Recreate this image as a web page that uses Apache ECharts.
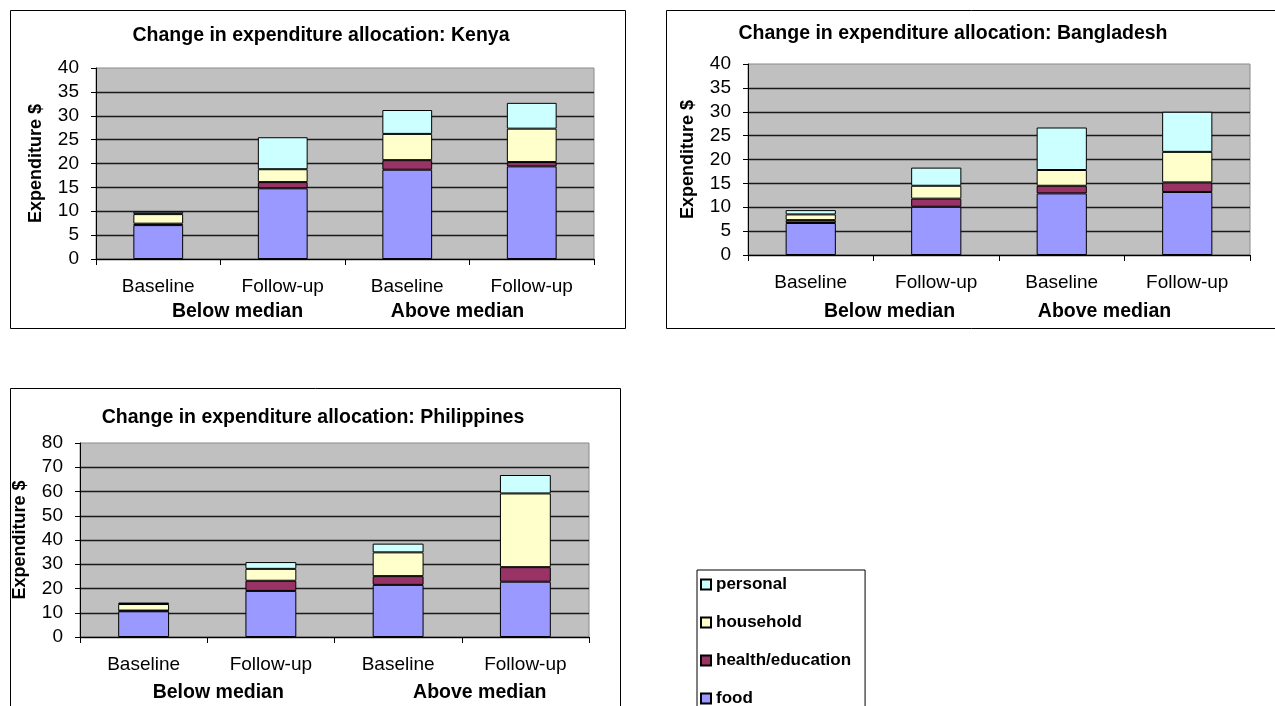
<!DOCTYPE html>
<html>
<head>
<meta charset="utf-8">
<script src="https://cdn.jsdelivr.net/npm/echarts@6.0.0/dist/echarts.min.js"></script>
<style>
    html, body { margin: 0; padding: 0; background: #fff; }
    #main { width: 1275px; height: 706px; }
</style>
</head>
<body>
<div id="main"></div>
<script>
// 数据
var categories = ["Baseline", "Follow-up", "Baseline", "Follow-up"];
var groups = ["Below median", "Above median"];
var seriesNames = ["food", "health/education", "household", "personal"];
var legendOrder = ["personal", "household", "health/education", "food"];

var kenyaFood = [7.1, 14.8, 18.7, 19.4];
var kenyaHealth = [0.3, 1.3, 2.0, 0.9];
var kenyaHousehold = [2.0, 2.7, 5.5, 7.0];
var kenyaPersonal = [0.5, 6.7, 5.0, 5.4];

var bangladeshFood = [6.7, 10.1, 12.9, 13.2];
var bangladeshHealth = [0.6, 1.7, 1.6, 2.0];
var bangladeshHousehold = [1.2, 2.7, 3.3, 6.4];
var bangladeshPersonal = [0.9, 3.8, 8.9, 8.4];

var philippinesFood = [10.6, 19.0, 21.5, 22.8];
var philippinesHealth = [0.3, 4.2, 3.6, 6.0];
var philippinesHousehold = [2.7, 4.9, 9.8, 30.4];
var philippinesPersonal = [0.6, 2.8, 3.6, 7.6];

var colors = ["#9999FF", "#993366", "#FFFFCC", "#CCFFFF"];

var panels = [
    {
        title: "Change in expenditure allocation: Kenya",
        titleX: 316, titleY: 21,
        grid: { left: 96, top: 68, width: 498, height: 191 },
        max: 40, interval: 5,
        groupMargin: 43, groupNudge: [17, -12],
        values: [kenyaFood, kenyaHealth, kenyaHousehold, kenyaPersonal],
    },
    {
        title: "Change in expenditure allocation: Bangladesh",
        titleX: 948, titleY: 19,
        grid: { left: 748, top: 64, width: 502, height: 191 },
        max: 40, interval: 5,
        groupMargin: 47, groupNudge: [16, -20],
        values: [bangladeshFood, bangladeshHealth, bangladeshHousehold, bangladeshPersonal],
    },
    {
        title: "Change in expenditure allocation: Philippines",
        titleX: 308, titleY: 403,
        grid: { left: 80, top: 443, width: 509, height: 194 },
        max: 80, interval: 10,
        groupMargin: 46, groupNudge: [11, 18],
        values: [philippinesFood, philippinesHealth, philippinesHousehold, philippinesPersonal],
    },
];

function nudgePadding(n) {
    return n >= 0 ? [0, 0, 0, 2 * n] : [0, -2 * n, 0, 0];
}

function buildOption() {
    var option = {
        backgroundColor: "#ffffff",
        animation: false,
        textStyle: { fontFamily: "Liberation Sans, Arial, sans-serif", color: "#000" },
        title: [],
        grid: [],
        xAxis: [],
        yAxis: [],
        series: [],
        legend: {
            orient: "vertical",
            left: 697,
            top: 570,
            height: 300,
            padding: [6, 14, 40, 3],
            itemGap: 21,
            itemWidth: 10,
            itemHeight: 10,
            borderColor: "#000",
            borderWidth: 1,
            icon: "rect",
            data: legendOrder,
            textStyle: { fontSize: 17, fontWeight: "bold", color: "#000" },
        },
        graphic: [
            { type: "rect", shape: { x: 10.5, y: 10.5, width: 615, height: 318 }, style: { fill: "none", stroke: "#000", lineWidth: 1 } },
            { type: "rect", shape: { x: 666.5, y: 10.5, width: 620, height: 318 }, style: { fill: "none", stroke: "#000", lineWidth: 1 } },
            { type: "rect", shape: { x: 10.5, y: 388.5, width: 610, height: 330 }, style: { fill: "none", stroke: "#000", lineWidth: 1 } },
        ],
    };

    panels.forEach(function (p, i) {
        option.title.push({
            text: p.title,
            left: p.titleX,
            top: p.titleY,
            textAlign: "center",
            textStyle: { fontSize: 19.5, fontWeight: "bold", color: "#000" },
        });

        option.grid.push({
            left: p.grid.left,
            top: p.grid.top,
            width: p.grid.width,
            height: p.grid.height,
            show: true,
            backgroundColor: "#C0C0C0",
            borderColor: "#8a8a8a",
            borderWidth: 1,
        });

        // 类别轴
        option.xAxis.push({
            type: "category",
            gridIndex: i,
            position: "bottom",
            data: categories,
            axisLine: { lineStyle: { color: "#000", width: 1 } },
            axisTick: { show: true, length: 6, lineStyle: { color: "#000" } },
            axisLabel: { interval: 0, margin: 18, fontSize: 19, color: "#000" },
            splitLine: { show: false },
        });

        // 分组标签
        option.xAxis.push({
            type: "category",
            gridIndex: i,
            position: "bottom",
            data: groups,
            axisLine: { show: false },
            axisTick: { show: false },
            splitLine: { show: false },
            axisLabel: {
                interval: 0,
                margin: p.groupMargin,
                formatter: function (v, idx) {
                    return "{g" + idx + "|" + v + "}";
                },
                rich: {
                    g0: { fontSize: 19.5, fontWeight: "bold", color: "#000", padding: nudgePadding(p.groupNudge[0]) },
                    g1: { fontSize: 19.5, fontWeight: "bold", color: "#000", padding: nudgePadding(p.groupNudge[1]) },
                },
            },
        });

        option.yAxis.push({
            type: "value",
            gridIndex: i,
            min: 0,
            max: p.max,
            interval: p.interval,
            name: "Expenditure $",
            nameLocation: "middle",
            nameGap: 51,
            nameTextStyle: { fontSize: 18, fontWeight: "bold", color: "#000" },
            axisLine: { show: true, lineStyle: { color: "#000", width: 1 } },
            axisTick: { show: true, length: 5, lineStyle: { color: "#000" } },
            axisLabel: { margin: 17, fontSize: 19, color: "#000" },
            splitLine: {
                show: true,
                showMaxLine: false,
                lineStyle: { color: "#1a1a1a", width: 1.3 },
            },
        });

        seriesNames.forEach(function (name, s) {
            option.series.push({
                name: name,
                type: "bar",
                stack: "panel" + i,
                xAxisIndex: i * 2,
                yAxisIndex: i,
                barWidth: "40%",
                itemStyle: { color: colors[s], borderColor: "#000", borderWidth: 1 },
                data: p.values[s],
            });
        });
    });

    return option;
}

var myChart = echarts.init(document.getElementById("main"));
myChart.setOption(buildOption());
window.addEventListener("resize", function () {
    myChart.resize();
});
</script>
</body>
</html>
